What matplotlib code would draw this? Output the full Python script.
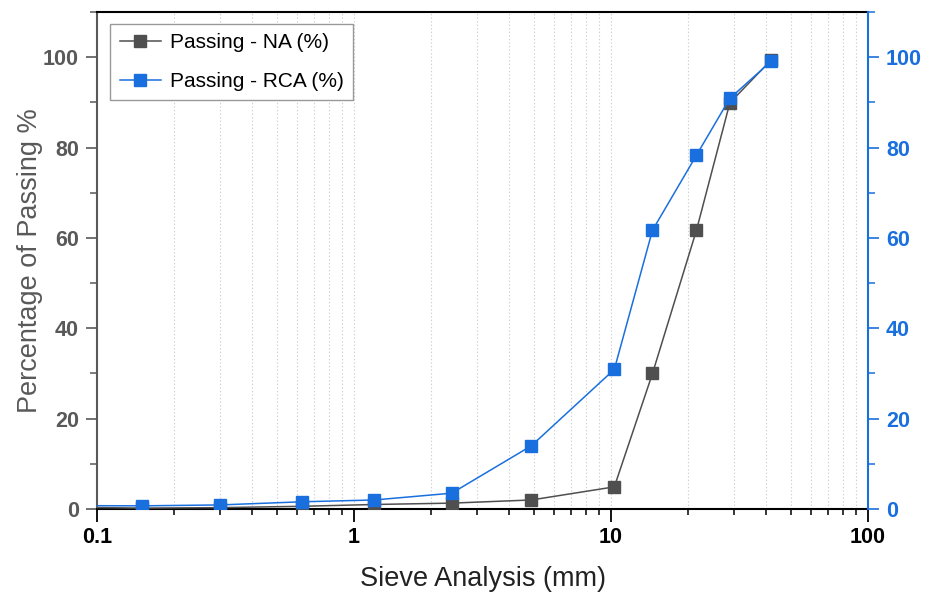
import matplotlib
matplotlib.use("Agg")
import matplotlib.pyplot as plt
from matplotlib.ticker import LogLocator, FixedLocator, MultipleLocator, FuncFormatter

plt.rcParams['font.family'] = ['Liberation Sans', 'DejaVu Sans']

# Sieve sizes (mm) and cumulative percentage passing
sieve_na = [0.075, 0.15, 0.3, 0.63, 1.2, 2.4, 4.9, 10.3, 14.5, 21.5, 29.0, 42.0]
passing_na = [0.4, 0.2, 0.3, 0.6, 1.0, 1.3, 2.0, 4.9, 30.0, 61.7, 89.9, 99.4]

sieve_rca = [0.075, 0.15, 0.3, 0.63, 1.2, 2.4, 4.9, 10.3, 14.5, 21.5, 29.0, 42.0]
passing_rca = [0.75, 0.7, 0.9, 1.6, 2.0, 3.5, 14.0, 30.9, 61.7, 78.3, 90.9, 99.1]

x_ticks = [0.1, 1, 10, 100]
x_tick_labels = ["0.1", "1", "10", "100"]
y_ticks = [0, 20, 40, 60, 80, 100]

BLUE = "#1a6fdf"
GREY = "#4f4f4f"
LABEL_GREY = "#595959"

fig = plt.figure(figsize=(9.25, 5.92), dpi=100)
ax = fig.add_axes([0.1049, 0.1402, 0.8335, 0.8395])

ax.plot(sieve_na, passing_na, color=GREY, lw=1.1, marker='s', ms=8.5,
        mfc=GREY, mec=GREY, label="Passing - NA (%)", zorder=3)
ax.plot(sieve_rca, passing_rca, color=BLUE, lw=1.1, marker='s', ms=8.5,
        mfc=BLUE, mec=BLUE, label="Passing - RCA (%)", zorder=4)

ax.set_xscale('log')
ax.set_xlim(0.1, 100)
ax.set_ylim(0, 110)

ax.xaxis.set_major_locator(FixedLocator(x_ticks))
ax.xaxis.set_major_formatter(FuncFormatter(lambda v, p: x_tick_labels[x_ticks.index(v)] if v in x_ticks else ""))
ax.xaxis.set_minor_locator(LogLocator(base=10, subs=range(2, 10)))
ax.xaxis.set_minor_formatter(FuncFormatter(lambda v, p: ""))

ax.yaxis.set_major_locator(FixedLocator(y_ticks))
ax.yaxis.set_minor_locator(MultipleLocator(10))

# vertical dotted grid at major and minor sieve decades
ax.grid(True, which='both', axis='x', linestyle=(0, (1.2, 2.0)), color='#cfcfcf', lw=0.8)
ax.set_axisbelow(True)

ax.tick_params(axis='x', which='major', direction='out', length=9, width=1.3,
               color='black', labelsize=15.5, pad=4)
ax.tick_params(axis='x', which='minor', direction='out', length=4.5, width=1.1, color='black')
ax.tick_params(axis='y', which='major', direction='out', length=8, width=1.2,
               color=LABEL_GREY, labelcolor=LABEL_GREY, labelsize=15.5, pad=5)
ax.tick_params(axis='y', which='minor', direction='out', length=5, width=1.1, color=LABEL_GREY)
for lbl in ax.get_xticklabels() + ax.get_yticklabels():
    lbl.set_fontweight('bold')

for side in ('top', 'bottom'):
    ax.spines[side].set_color('black')
    ax.spines[side].set_linewidth(1.5)
ax.spines['left'].set_color(LABEL_GREY)
ax.spines['left'].set_linewidth(1.5)
ax.spines['right'].set_visible(False)

ax.set_xlabel("Sieve Analysis (mm)", fontsize=19.5, color='#222222', labelpad=13)
ax.set_ylabel("Percentage of Passing %", fontsize=19.5, color=LABEL_GREY, labelpad=0)

# mirrored right-hand axis in blue
ax2 = ax.twinx()
ax2.set_ylim(ax.get_ylim())
ax2.yaxis.set_major_locator(FixedLocator(y_ticks))
ax2.yaxis.set_minor_locator(MultipleLocator(10))
ax2.tick_params(axis='y', which='major', direction='out', length=8, width=1.2,
                color=BLUE, labelcolor=BLUE, labelsize=15.5, pad=5)
ax2.tick_params(axis='y', which='minor', direction='out', length=5, width=1.1, color=BLUE)
for lbl in ax2.get_yticklabels():
    lbl.set_fontweight('bold')
for side in ('top', 'bottom', 'left'):
    ax2.spines[side].set_visible(False)
ax2.spines['right'].set_color(BLUE)
ax2.spines['right'].set_linewidth(1.5)

leg = ax.legend(loc='upper left', bbox_to_anchor=(0.017, 0.976), borderaxespad=0,
                fontsize=15, frameon=True, fancybox=False, edgecolor='#999999',
                framealpha=1, handlelength=2.0, handletextpad=0.4, borderpad=0.45,
                labelspacing=0.95)
leg.get_frame().set_linewidth(1.0)

fig.savefig("out.png", dpi=100)
